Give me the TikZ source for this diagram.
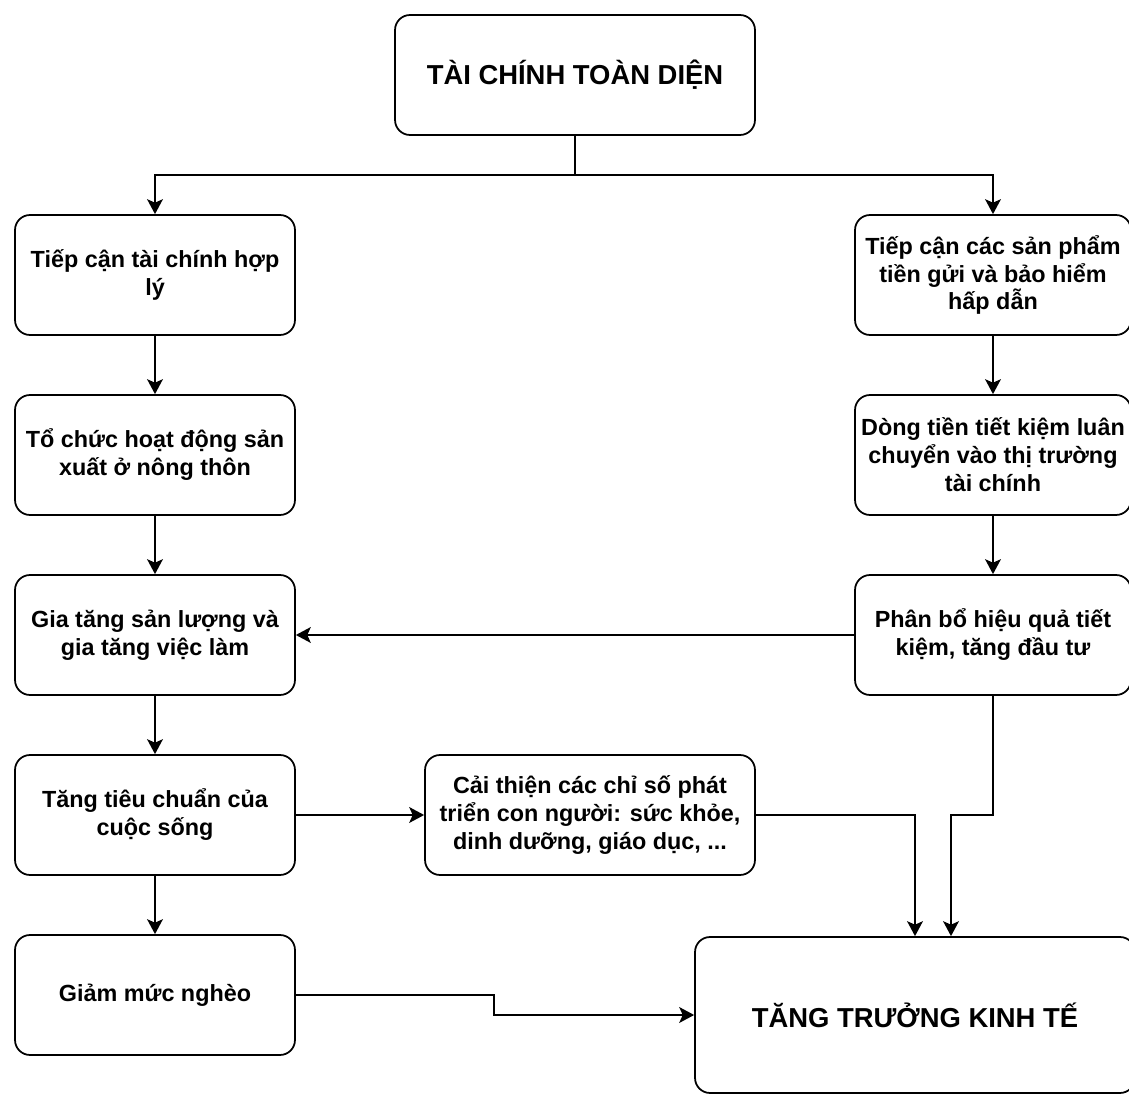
\documentclass[tikz,border=0pt]{standalone}
\usepackage{fontspec}
\setmainfont{Liberation Sans}
\usetikzlibrary{arrows.meta}

\begin{document}
\begin{tikzpicture}[x=0.02cm, y=-0.02cm,
  box/.style={draw, line width=1pt, rounded corners=0.3cm, align=center,
    minimum width=5.6cm, minimum height=2.4cm, inner sep=2pt,
    font=\fontsize{13.3}{15.9}\selectfont\bfseries},
  bigbox/.style={box, font=\fontsize{15.6}{18}\selectfont\bfseries},
  arr/.style={line width=1pt, -{Stealth[length=8.5pt, width=9pt, inset=2pt]}}]

\useasboundingbox (0,0) rectangle (1129,1094);

% Top box
\node[bigbox, minimum width=7.2cm] (top) at (575,75) {TÀI CHÍNH TOÀN DIỆN};

% Left column
\node[box] (reach) at (155,275) {Tiếp cận tài chính hợp\\lý};
\node[box] (rural) at (155,455) {Tổ chức hoạt động sản\\xuất ở nông thôn};
\node[box] (jobs) at (155,635) {Gia tăng sản lượng và\\gia tăng việc làm};
\node[box] (living) at (155,815) {Tăng tiêu chuẩn của\\cuộc sống};
\node[box] (poverty) at (155,995) {Giảm mức nghèo};

% Right column
\node[box, minimum width=5.52cm] (deposit) at (993,275) {Tiếp cận các sản phẩm\\tiền gửi và bảo hiểm\\hấp dẫn};
\node[box, minimum width=5.52cm] (savings) at (993,455) {Dòng tiền tiết kiệm luân\\chuyển vào thị trường\\tài chính};
\node[box, minimum width=5.52cm] (invest) at (993,635) {Phân bổ hiệu quả tiết\\kiệm, tăng đầu tư};

% Middle box
\node[box, minimum width=6.6cm] (human) at (590,815) {Cải thiện các chỉ số phát\\triển con người: sức khỏe,\\dinh dưỡng, giáo dục, ...};

% Bottom box
\node[bigbox, minimum width=8.8cm, minimum height=3.12cm] (growth) at (915,1015) {TĂNG TRƯỞNG KINH TẾ};

% Split below the top box
\coordinate (split) at (575,175);
\draw[line width=1pt] (top.south) -- (split);
\draw[arr] (split) -| (reach.north);
\draw[arr] (split) -| (deposit.north);

% Left chain
\draw[arr] (reach) -- (rural);
\draw[arr] (rural) -- (jobs);
\draw[arr] (jobs) -- (living);
\draw[arr] (living) -- (poverty);

% Right chain
\draw[arr] (deposit) -- (savings);
\draw[arr] (savings) -- (invest);
\draw[arr] (invest.west) -- (jobs.east);

% Into growth
\draw[arr] (living.east) -- (human.west);
\draw[arr] (human.east) -| (growth.north);
\coordinate (join) at (951,815);
\draw[arr] (invest.south) |- (join) -- (join |- growth.north);
\coordinate (bend) at (494,995);
\draw[arr] (poverty.east) -- (bend) |- (growth.west);

\end{tikzpicture}
\end{document}
